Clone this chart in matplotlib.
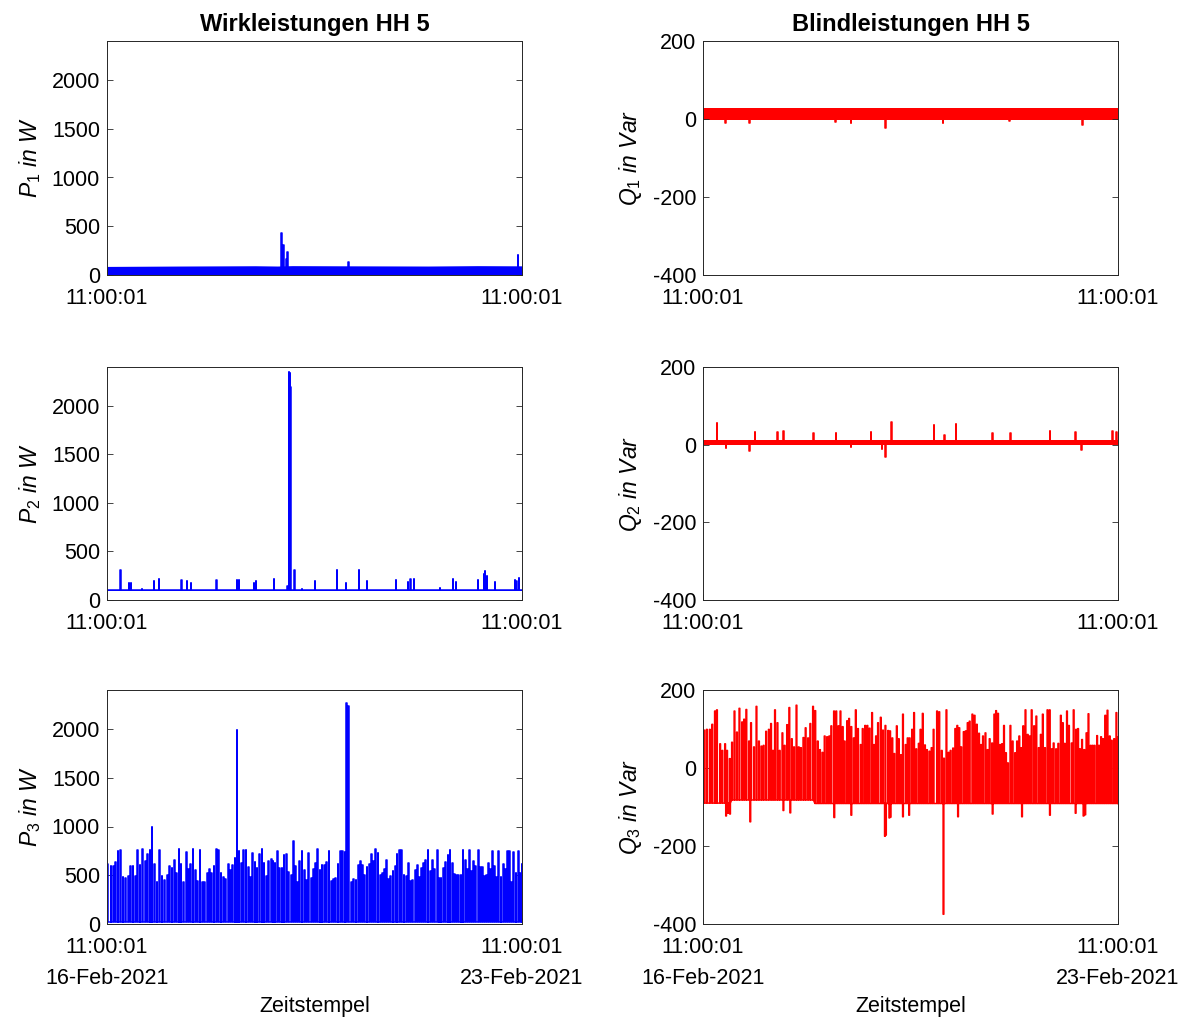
import numpy as np
import matplotlib.pyplot as plt

plt.rcParams['font.family'] = 'Liberation Sans'
plt.rcParams['mathtext.fontset'] = 'custom'
plt.rcParams['mathtext.it'] = 'Liberation Sans:italic'
plt.rcParams['mathtext.rm'] = 'Liberation Sans'
plt.rcParams['axes.unicode_minus'] = False

# Zeitachse in Stunden ab 16-Feb-2021 11:00:01 (7 Tage)
t_end = 168.0
tick_zeit = ['11:00:01', '11:00:01']
tick_datum = ['16-Feb-2021', '23-Feb-2021']

# ---- Wirkleistung Phase 1: Grundband + Spitzen
p1_band_t = [0, 30, 60, 69, 75, 100, 130, 150, 168]
p1_band_hi = [88, 92, 95, 92, 96, 94, 92, 96, 94]
p1_band_lo = 5
p1_base = 60
p1_t = [70.3, 71.2, 72.4, 72.9, 97.7, 166.2]
p1_v = [430, 310, 160, 240, 130, 210]
p1_w = [0.5, 0.4, 0.3, 0.3, 0.3, 0.2]

# ---- Wirkleistung Phase 2
p2_band = (90, 108)
p2_base = 100
p2_t = [5.3, 8.8, 9.7, 14.0, 18.9, 20.9, 30.0, 32.3, 34.0, 44.3,
        52.5, 53.3, 59.4, 60.3, 67.6, 72.9, 73.5, 73.9, 74.2, 75.8,
        78.8, 84.1, 93.0, 96.6, 101.9, 105.1, 116.9, 121.7, 122.8, 124.1,
        134.7, 139.9, 141.2, 150.1, 152.5, 153.0, 153.7, 156.9, 165.0, 165.7,
        166.6]
p2_v = [309, 175, 179, 110, 196, 213, 206, 196, 179, 206,
        206, 206, 179, 196, 213, 144, 2345, 2337, 2189, 309,
        110, 196, 306, 172, 306, 196, 206, 189, 213, 213,
        120, 213, 189, 206, 265, 299, 247, 189, 206, 196,
        230]

# ---- Wirkleistung Phase 3
p3_base = 20
p3_t = [0.1, 1.5, 2.6, 3.4, 4.3, 5.3, 6.3, 7.4, 8.5, 9.3,
        10.4, 11.3, 12.3, 13.2, 14.3, 15.3, 16.2, 17.3, 18.1, 19.2,
        20.1, 21.2, 22.1, 23.1, 24.2, 25.1, 26.2, 27.1, 28.1, 29.0,
        29.8, 30.8, 31.9, 32.8, 33.7, 34.7, 35.6, 36.6, 37.5, 38.5,
        39.4, 40.4, 41.3, 42.2, 43.2, 44.1, 45.1, 46.0, 47.0, 47.9,
        48.9, 49.8, 50.7, 51.7, 52.5, 53.3, 54.3, 55.2, 56.1, 57.1,
        57.9, 58.8, 59.8, 60.6, 61.5, 62.6, 63.4, 64.4, 65.3, 66.3,
        67.1, 67.9, 68.8, 69.6, 70.7, 71.5, 72.5, 73.4, 74.4, 75.2,
        76.1, 77.1, 77.9, 78.8, 79.8, 80.7, 81.5, 82.5, 83.4, 84.2,
        85.2, 86.1, 86.9, 87.9, 88.8, 89.7, 90.7, 91.5, 92.4, 93.4,
        94.3, 95.3, 96.2, 96.8, 97.6, 98.8, 99.7, 100.7, 101.6, 102.4,
        103.4, 104.2, 105.1, 106.1, 106.9, 107.8, 108.6, 109.6, 110.5, 111.3,
        112.1, 113.0, 113.9, 114.7, 115.6, 116.5, 117.3, 118.2, 119.2, 120.1,
        121.0, 122.0, 122.8, 123.6, 124.6, 125.4, 126.3, 127.1, 127.9, 128.9,
        129.8, 130.8, 131.6, 132.5, 133.5, 134.3, 135.1, 136.0, 137.0, 137.9,
        138.7, 139.7, 140.5, 141.4, 142.2, 143.2, 144.0, 144.9, 145.7, 146.7,
        147.5, 148.3, 149.1, 150.1, 150.9, 151.8, 152.6, 153.4, 154.2, 155.1,
        155.9, 156.8, 157.6, 158.4, 159.4, 160.3, 161.1, 162.1, 162.9, 163.7,
        164.5, 165.4, 166.3, 167.2, 167.8]
p3_v = [620, 590, 590, 640, 750, 760, 480, 470, 490, 590,
        600, 490, 760, 610, 770, 650, 720, 760, 990, 620,
        430, 760, 490, 450, 500, 600, 570, 660, 520, 770,
        620, 430, 740, 560, 620, 770, 550, 440, 760, 430,
        430, 520, 560, 520, 600, 770, 760, 520, 480, 460,
        620, 550, 610, 680, 1990, 750, 630, 760, 760, 580,
        480, 730, 640, 570, 720, 770, 630, 490, 650, 670,
        650, 630, 750, 570, 570, 710, 720, 530, 500, 850,
        590, 430, 650, 750, 550, 450, 730, 470, 560, 630,
        770, 550, 610, 610, 640, 750, 440, 460, 470, 620,
        750, 750, 740, 2270, 2240, 430, 460, 450, 610, 650,
        610, 500, 580, 620, 720, 650, 770, 730, 500, 520,
        560, 660, 460, 490, 540, 590, 720, 760, 760, 500,
        490, 630, 440, 450, 550, 610, 480, 570, 630, 660,
        760, 540, 660, 560, 760, 470, 470, 570, 640, 710,
        760, 630, 510, 500, 500, 500, 760, 660, 560, 760,
        540, 650, 600, 760, 580, 580, 490, 500, 630, 560,
        750, 590, 480, 750, 480, 620, 560, 750, 750, 430,
        740, 520, 750, 520, 620]

# ---- Blindleistung Phase 1
q1_band = (-3, 27)
q1_base = 10
q1_t = [8.9, 18.7, 53.4, 59.8, 73.7, 97.0, 124.0, 153.5]
q1_v = [-9, -9, -8, -9, -24, -11, -6, -16]

# ---- Blindleistung Phase 2
q2_band = (0, 12)
q2_base = 6
q2_t = [5.5, 9.2, 18.8, 21.0, 30.1, 32.4, 44.7, 53.7, 59.8, 67.9,
        72.4, 73.7, 76.1, 93.4, 97.7, 102.3, 117.0, 124.3, 140.3, 150.6,
        153.2, 165.6, 167.2]
q2_v = [55, -8, -16, 32, 32, 35, 30, 29, -6, 32,
        -11, -31, 58, 51, 25, 52, 29, 29, 35, 33,
        -14, 34, 33]

# ---- Blindleistung Phase 3
q3_base_t = [0, 11, 44.5]
q3_base_v = [-90, -82, -91]
q3_t = [0.4, 1.4, 2.6, 3.6, 4.7, 5.5, 6.8, 7.7, 8.8, 9.6,
        10.7, 11.6, 12.6, 13.6, 14.6, 15.7, 16.5, 17.4, 18.5, 19.3,
        20.5, 21.5, 22.5, 23.5, 24.4, 25.4, 26.5, 27.4, 28.2, 29.0,
        30.0, 30.9, 32.0, 32.9, 33.9, 34.8, 35.8, 36.7, 37.7, 38.6,
        39.5, 40.5, 41.4, 42.4, 43.3, 44.4, 45.3, 46.3, 47.2, 48.2,
        49.1, 50.1, 51.0, 51.8, 52.9, 53.8, 54.7, 55.5, 56.4, 57.2,
        58.2, 59.0, 59.9, 60.9, 61.7, 62.6, 63.7, 64.5, 65.5, 66.4,
        67.3, 68.3, 69.1, 69.9, 70.7, 71.8, 72.7, 73.7, 74.8, 75.6,
        76.5, 77.3, 78.3, 79.1, 80.0, 80.8, 81.9, 82.7, 83.5, 84.5,
        85.3, 86.2, 87.2, 87.9, 88.8, 89.7, 90.5, 91.5, 92.4, 93.2,
        94.6, 95.5, 96.5, 97.4, 98.4, 99.3, 100.1, 101.1, 102.0, 102.8,
        103.6, 104.4, 105.4, 106.2, 107.0, 107.8, 108.9, 109.8, 110.7, 111.6,
        112.4, 113.2, 114.2, 115.1, 115.9, 116.9, 117.8, 118.5, 119.3, 120.1,
        120.9, 121.7, 122.5, 123.3, 124.3, 125.2, 126.2, 127.0, 127.9, 128.7,
        129.5, 130.4, 131.3, 132.1, 132.9, 133.9, 134.8, 135.8, 136.6, 137.4,
        138.3, 139.3, 140.2, 141.0, 141.8, 142.8, 143.7, 144.7, 145.5, 146.3,
        147.2, 148.0, 149.1, 149.9, 150.9, 151.7, 152.5, 153.3, 154.2, 155.1,
        155.9, 156.8, 157.6, 158.4, 159.4, 160.2, 161.0, 161.8, 162.7, 163.6,
        164.5, 165.3, 166.3, 167.2, 167.8]
q3_v = [97, 99, 99, 112, 146, 149, 62, 45, 62, 45,
        24, 66, 146, 92, 153, 118, 125, 150, 69, 116,
        54, 158, 69, 56, 58, 94, 99, 114, 45, 149,
        116, 45, 90, 58, 111, 155, 75, 54, 161, 54,
        52, 78, 103, 77, 114, 158, 147, 69, 47, 40,
        82, 80, 82, 108, 146, 146, 108, 146, 106, 69,
        121, 127, 106, 77, 149, 101, 60, 101, 109, 109,
        102, 142, 60, 82, 116, 130, 97, 109, 96, 95,
        77, 37, 108, 75, 34, 138, 60, 77, 77, 99,
        142, 49, 63, 99, 140, 59, 47, 43, 52, 99,
        146, 144, 45, 25, 149, 40, 45, 51, 101, 109,
        103, 54, 93, 95, 116, 120, 138, 135, 112, 89,
        60, 82, 90, 47, 75, 64, 138, 147, 140, 60,
        62, 109, 39, 13, 109, 69, 39, 69, 82, 52,
        108, 149, 86, 82, 149, 108, 133, 52, 86, 138,
        52, 149, 149, 49, 64, 49, 63, 135, 116, 63,
        146, 109, 64, 149, 99, 101, 49, 73, 47, 90,
        139, 58, 58, 58, 83, 58, 80, 75, 135, 148,
        82, 71, 75, 142, 79]
q3_dip_t = [9.2, 10.0, 10.8, 19.0, 32.4, 35.2, 53.0, 59.9, 73.5, 73.9,
            75.3, 75.8, 80.8, 83.3, 97.2, 103.1, 117.1, 129.0, 140.3, 150.7,
            153.9, 154.6]
q3_dip_v = [-123, -116, -118, -138, -109, -115, -127, -121, -175, -172,
            -128, -126, -125, -121, -375, -125, -118, -125, -121, -116,
            -123, -120]


def pulse_line(t, v, w, base_t, base_v):
    t = np.asarray(t, float)
    v = np.asarray(v, float)
    w = np.broadcast_to(np.asarray(w, float), t.shape)
    order = np.argsort(t)
    xs, ys = [0.0], [base_v[0]]
    for i in order:
        b = base_v[np.searchsorted(base_t, t[i], side='right') - 1]
        xs += [t[i], t[i], t[i] + w[i], t[i] + w[i]]
        ys += [b, v[i], v[i], b]
    xs.append(t_end)
    ys.append(base_v[-1])
    return xs, ys


fig = plt.figure(figsize=(11.87, 10.21), dpi=100)
W, H = 1187, 1021
links, rechts, breite = 107 / W, 703 / W, 415 / W
zeilen = [(41, 275), (367, 600), (690, 924)]
achsen = []
for oben, unten in zeilen:
    b = 1 - unten / H
    h = (unten - oben) / H
    achsen.append((fig.add_axes([links, b, breite, h]),
                   fig.add_axes([rechts, b, breite, h])))

blau, rot = (0, 0, 1), (1, 0, 0)
lw = 1.1

# Phase 1
ax = achsen[0][0]
ax.fill_between(p1_band_t, p1_band_lo, p1_band_hi, color=blau, lw=0)
ax.plot(*pulse_line(p1_t, p1_v, p1_w, [0], [p1_base]), color=blau, lw=lw)
ax = achsen[0][1]
ax.fill_between([0, t_end], *q1_band, color=rot, lw=0)
ax.plot(*pulse_line(q1_t, q1_v, 0.3, [0], [q1_base]), color=rot, lw=lw)

# Phase 2
ax = achsen[1][0]
ax.fill_between([0, t_end], *p2_band, color=blau, lw=0)
ax.plot(*pulse_line(p2_t, p2_v, 0.2, [0], [p2_base]), color=blau, lw=lw)
ax = achsen[1][1]
ax.fill_between([0, t_end], *q2_band, color=rot, lw=0)
ax.plot(*pulse_line(q2_t, q2_v, 0.25, [0], [q2_base]), color=rot, lw=lw)

# Phase 3
ax = achsen[2][0]
ax.plot(*pulse_line(p3_t, p3_v, 0.3, [0], [p3_base]), color=blau, lw=lw)
ax = achsen[2][1]
ax.plot(*pulse_line(list(q3_t) + q3_dip_t, list(q3_v) + q3_dip_v,
                    0.3, q3_base_t, q3_base_v),
        color=rot, lw=lw)

farbe = '#262626'
fs = 15.5
for zeile, (axl, axr) in enumerate(achsen):
    nr = zeile + 1
    for ax, ylim, yt, lab in [
            (axl, (0, 2400), [0, 500, 1000, 1500, 2000], r'$P_%d\ in\ W$' % nr),
            (axr, (-400, 200), [-400, -200, 0, 200], r'$Q_%d\ in\ Var$' % nr)]:
        ax.set_xlim(0, t_end)
        ax.set_ylim(*ylim)
        ax.set_yticks(yt)
        ax.set_xticks([0, t_end])
        if zeile == 2:
            ax.set_xticklabels([z + '\n' + d for z, d in zip(tick_zeit, tick_datum)],
                               linespacing=1.6)
            ax.set_xlabel('Zeitstempel', fontsize=fs, labelpad=5)
        else:
            ax.set_xticklabels(tick_zeit)
        ax.set_ylabel(lab, fontsize=16.5, labelpad=6)
        ax.tick_params(direction='in', length=4, width=0.6, top=True, right=True,
                       labelsize=fs, color=farbe)
        ax.tick_params(axis='x', pad=9.5)
        ax.tick_params(axis='y', pad=5)
        for s in ax.spines.values():
            s.set_color(farbe)
            s.set_linewidth(0.7)

achsen[0][0].set_title('Wirkleistungen HH 5', fontsize=17, fontweight='bold', pad=7)
achsen[0][1].set_title('Blindleistungen HH 5', fontsize=17, fontweight='bold', pad=7)

fig.savefig('out.png', dpi=100)
